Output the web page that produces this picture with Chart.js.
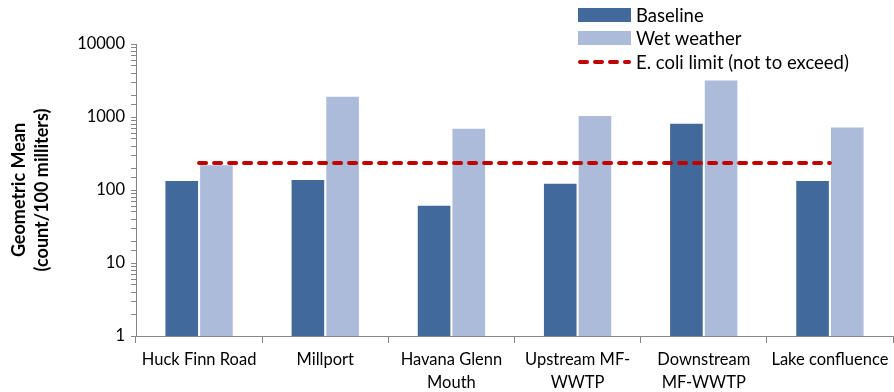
<!DOCTYPE html>
<html>
<head>
<meta charset="utf-8">
<script src="https://cdn.jsdelivr.net/npm/chart.js@4"></script>
<style>
  html, body { margin: 0; padding: 0; background: #fff; }
  #wrap { position: relative; width: 894px; height: 392px; }
  #legend { position: absolute; left: 578px; top: 3px; font-family: Lato, sans-serif; font-size: 18.5px; color: #000; }
  #legend .row { display: flex; align-items: center; height: 23.5px; }
  #legend .swatch { width: 53px; height: 14px; margin-right: 5px; }
  #legend svg { margin-right: 5px; }
</style>
</head>
<body>
<div id="wrap">
  <canvas id="myChart" width="894" height="392"></canvas>
  <div id="legend"></div>
</div>
<script>
const categories = [
  'Huck Finn Road',
  'Millport',
  ['Havana Glenn', 'Mouth'],
  ['Upstream MF-', 'WWTP'],
  ['Downstream', 'MF-WWTP'],
  'Lake confluence',
];
const baseline = [133, 137, 61, 122, 810, 133];
const wetWeather = [218, 1900, 690, 1030, 3150, 720];
const ecoliLimit = [235, 235, 235, 235, 235, 235];
const yTickLabels = [1, 10, 100, 1000, 10000];

const seriesNames = ['Baseline', 'Wet weather', 'E. coli limit (not to exceed)'];
const colors = ['#416a9b', '#abbbd9', '#c00000'];

const ctx = document.getElementById('myChart');
const font = { family: 'Lato, sans-serif', size: 16.5, lineHeight: 1.4 };

const chart = new Chart(ctx, {
  type: 'bar',
  data: {
    labels: categories,
    datasets: [
      {
        label: seriesNames[0],
        data: baseline,
        backgroundColor: colors[0],
        categoryPercentage: 0.55,
        barPercentage: 0.94,
        order: 1,
      },
      {
        label: seriesNames[1],
        data: wetWeather,
        backgroundColor: colors[1],
        categoryPercentage: 0.55,
        barPercentage: 0.94,
        order: 1,
      },
      {
        type: 'line',
        label: seriesNames[2],
        data: ecoliLimit,
        borderColor: colors[2],
        borderWidth: 4,
        borderDash: [7, 8],
        borderCapStyle: 'round',
        pointRadius: 0,
        fill: false,
        order: 0,
      },
    ],
  },
  options: {
    responsive: false,
    animation: false,
    layout: { padding: { top: 44, right: 1, left: 8, bottom: 0 } },
    plugins: {
      legend: { display: false },
      tooltip: { enabled: false },
    },
    scales: {
      x: {
        grid: {
          drawOnChartArea: false,
          color: '#868686',
          tickLength: 7,
          offset: true,
        },
        border: { color: '#868686' },
        ticks: { color: '#000', font: font, maxRotation: 0, autoSkip: false, padding: 5 },
        afterFit: (scale) => { scale.height = 56; },
      },
      y: {
        type: 'logarithmic',
        min: 1,
        max: 10000,
        grid: { drawOnChartArea: false, color: '#868686', tickLength: 5 },
        border: { color: '#868686' },
        ticks: {
          color: '#000',
          font: font,
          autoSkip: false,
          padding: 6,
          callback: (v) => (yTickLabels.includes(v) ? String(v) : ''),
        },
        title: {
          display: true,
          text: ['Geometric Mean', '(count/100 milliters)'],
          color: '#000',
          font: { family: 'Lato, sans-serif', size: 18, weight: 'bold', lineHeight: 1.25 },
          padding: { top: 0, bottom: 4 },
        },
        afterFit: (scale) => { scale.width = 128; },
      },
    },
  },
});

// legend drawn beside the canvas, from the same series names and colours
const legend = document.getElementById('legend');
seriesNames.forEach((name, i) => {
  const row = document.createElement('div');
  row.className = 'row';
  if (i < 2) {
    const sw = document.createElement('div');
    sw.className = 'swatch';
    sw.style.background = colors[i];
    row.appendChild(sw);
  } else {
    row.insertAdjacentHTML('beforeend',
      '<svg width="53" height="6"><line x1="2" y1="3" x2="51" y2="3" stroke="' + colors[i] +
      '" stroke-width="4" stroke-dasharray="7 8" stroke-linecap="round"/></svg>');
  }
  const txt = document.createElement('span');
  txt.textContent = name;
  row.appendChild(txt);
  legend.appendChild(row);
});
</script>
</body>
</html>
